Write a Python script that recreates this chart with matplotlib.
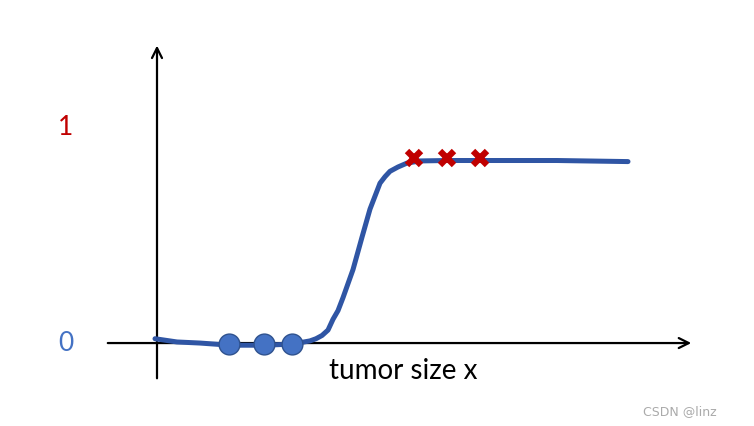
import matplotlib.pyplot as plt
import numpy as np

# curve (x = tumor size, y = probability)
curve_x = [-0.02, 0.2, 0.43, 0.73, 1.07, 1.35, 1.53, 1.59, 1.65, 1.71, 1.76, 1.81, 1.86, 1.96, 2.05,
           2.13, 2.18, 2.23, 2.28, 2.33, 2.41, 2.50, 2.63, 2.9, 3.3, 4.0, 4.71]
curve_y = [0.02, 0.005, 0.0, -0.01, -0.01, -0.005, 0.01, 0.02, 0.035, 0.06, 0.11, 0.15, 0.21, 0.34, 0.49,
           0.62, 0.68, 0.74, 0.77, 0.795, 0.815, 0.833, 0.843, 0.845, 0.845, 0.845, 0.84]

neg_x = [0.72, 1.07, 1.35]
neg_y = [-0.005, -0.005, -0.005]
pos_x = [2.57, 2.90, 3.23]
pos_y = [0.857, 0.857, 0.857]

fig = plt.figure(figsize=(7.54, 4.26), dpi=100)
ax = fig.add_axes([0, 0, 1, 1])
ax.set_xlim(-1.57, 5.97)
ax.set_ylim(-0.384, 1.588)
ax.axis("off")

# axes with arrows
ax.annotate("", xy=(5.37, 0), xytext=(-0.52, 0),
            arrowprops=dict(arrowstyle="->", lw=1.6, color="black", mutation_scale=18))
ax.annotate("", xy=(0, 1.39), xytext=(0, -0.176),
            arrowprops=dict(arrowstyle="->", lw=1.6, color="black", mutation_scale=18))

ax.plot(curve_x, curve_y, color="#2F55A4", lw=3.6, solid_capstyle="round",
        solid_joinstyle="round", zorder=3)
ax.plot(neg_x, neg_y, "o", ms=15, mfc="#4472C4", mec="#2F528F", mew=1, zorder=4)
ax.plot(pos_x, pos_y, "x", ms=10, mew=4.5, color="#C00000", zorder=4)

ax.text(-0.91, 1.0, "1", color="#C00000", fontsize=19, family="Lato", ha="center", va="center")
ax.text(-0.91, 0.0, "0", color="#4472C4", fontsize=19, family="Lato", ha="center", va="center")
ax.text(2.46, -0.13, "tumor size x", color="black", fontsize=20, family="Lato", ha="center", va="center")
ax.text(5.23, -0.317, "CSDN @linz", color="#aaaaaa", fontsize=9, ha="center", va="center")

plt.savefig("out.png", dpi=100)
